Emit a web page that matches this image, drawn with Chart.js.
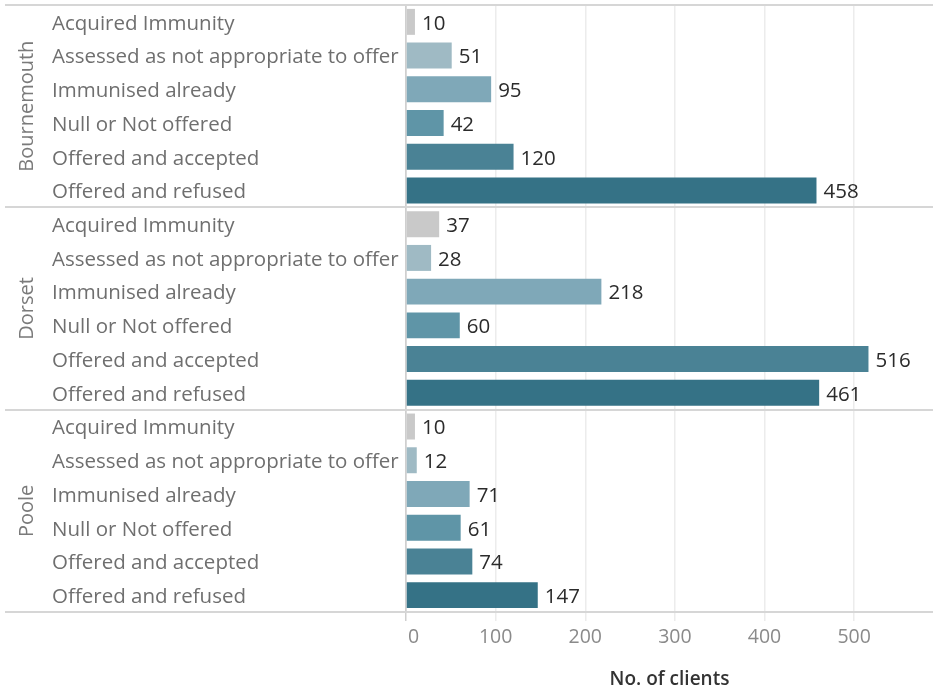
<!DOCTYPE html>
<html>
<head>
<meta charset="utf-8">
<script src="https://cdn.jsdelivr.net/npm/chart.js@4.4.1/dist/chart.umd.min.js"></script>
<style>
  html, body { margin: 0; padding: 0; background: #fff; }
</style>
</head>
<body>
<canvas id="c" width="933" height="692"></canvas>
<script>
// Data
const groups = ['Bournemouth', 'Dorset', 'Poole'];
const categories = [
  'Acquired Immunity',
  'Assessed as not appropriate to offer',
  'Immunised already',
  'Null or Not offered',
  'Offered and accepted',
  'Offered and refused',
];
const bournemouth = [10, 51, 95, 42, 120, 458];
const dorset = [37, 28, 218, 60, 516, 461];
const poole = [10, 12, 71, 61, 74, 147];
const xTicks = [0, 100, 200, 300, 400, 500];

// One colour per category, grey to dark teal
const CAT_COLORS = ['#c9c9c9', '#9fbac4', '#7fa8b8', '#5f95a7', '#4a8295', '#357286'];
const FONT = '"Open Sans", Lato, sans-serif';

const labels = [].concat(categories, categories, categories);
const values = [].concat(bournemouth, dorset, poole);
const colors = labels.map((_, i) => CAT_COLORS[i % categories.length]);

// Value labels at bar ends
const valueLabels = {
  id: 'valueLabels',
  afterDatasetsDraw(chart) {
    const ctx = chart.ctx;
    const meta = chart.getDatasetMeta(0);
    ctx.save();
    ctx.font = '20.5px ' + FONT;
    ctx.fillStyle = '#2b2b2b';
    ctx.textAlign = 'left';
    ctx.textBaseline = 'middle';
    meta.data.forEach((bar, i) => {
      ctx.fillText(String(values[i]), bar.x + 7, bar.y + 2);
    });
    ctx.restore();
  },
};

// Group headers (rotated) and row-group separators
const groupPanel = {
  id: 'groupPanel',
  afterDraw(chart) {
    const ctx = chart.ctx;
    const y = chart.scales.y;
    const rowH = y.getPixelForValue(1) - y.getPixelForValue(0);
    const n = categories.length;
    ctx.save();
    // separators
    ctx.strokeStyle = '#d6d6d6';
    ctx.lineWidth = 2;
    for (let g = 0; g <= groups.length; g++) {
      const py = Math.round(y.getPixelForValue(g * n) - rowH / 2);
      ctx.beginPath();
      ctx.moveTo(5, py);
      ctx.lineTo(chart.width, py);
      ctx.stroke();
    }
    // group names
    ctx.font = '20px ' + FONT;
    ctx.fillStyle = '#7a7a7a';
    ctx.textAlign = 'center';
    ctx.textBaseline = 'middle';
    groups.forEach((name, g) => {
      const cy = (y.getPixelForValue(g * n) + y.getPixelForValue(g * n + n - 1)) / 2;
      ctx.save();
      ctx.translate(27, cy);
      ctx.rotate(-Math.PI / 2);
      ctx.fillText(name, 0, 0);
      ctx.restore();
    });
    ctx.restore();
  },
};

new Chart(document.getElementById('c'), {
  type: 'bar',
  data: {
    labels,
    datasets: [{
      data: values,
      backgroundColor: colors,
      borderWidth: 0,
      barPercentage: 0.77,
      categoryPercentage: 1,
    }],
  },
  options: {
    indexAxis: 'y',
    responsive: false,
    animation: false,
    devicePixelRatio: 1,
    layout: { padding: { left: 52, top: 5, right: 0, bottom: 0 } },
    plugins: {
      legend: { display: false },
      tooltip: { enabled: false },
    },
    scales: {
      x: {
        type: 'linear',
        min: 0,
        max: 588,
        afterBuildTicks: (s) => { s.ticks = xTicks.map(v => ({ value: v })); },
        afterFit: (s) => { s.height = 80; s.paddingLeft = 0; s.paddingRight = 0; },
        grid: {
          color: (c) => (c.tick && c.tick.value === 0 ? '#cfcfcf' : '#ececec'),
          lineWidth: 1.5,
          tickLength: 9,
        },
        border: { display: false },
        ticks: {
          font: { family: FONT, size: 19.5 },
          color: '#8a8a8a',
          padding: 5,
          maxRotation: 0,
          autoSkip: false,
          callback: (v) => (v === 0 ? '   0' : String(v)),
        },
        title: {
          display: true,
          text: 'No. of clients',
          font: { family: FONT, size: 19, weight: '600' },
          color: '#333333',
          padding: { top: 0, bottom: 1 },
        },
      },
      y: {
        type: 'category',
        afterFit: (s) => { s.width = 354; s.paddingTop = 0; s.paddingBottom = 0; },
        grid: { display: false },
        border: { display: true, color: '#cfcfcf', width: 1.5 },
        ticks: {
          crossAlign: 'far',
          font: { family: FONT, size: 20.5 },
          color: '#6f6f6f',
          padding: 0,
          labelOffset: 2,
          autoSkip: false,
        },
      },
    },
  },
  plugins: [valueLabels, groupPanel],
});
</script>
</body>
</html>
